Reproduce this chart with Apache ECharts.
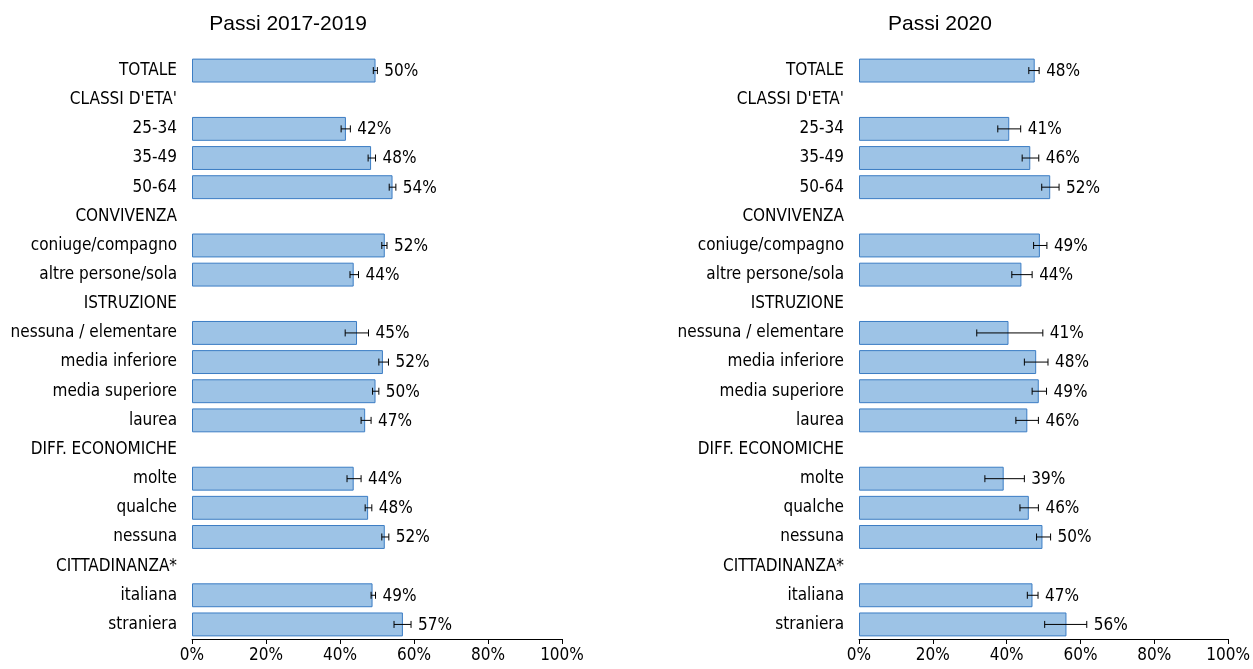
<!DOCTYPE html>
<html>
<head>
<meta charset="utf-8">
<script src="https://cdn.jsdelivr.net/npm/echarts@6/dist/echarts.min.js"></script>
<style>
  html, body { margin: 0; padding: 0; background: #fff; }
  #main { width: 1253px; height: 669px; }
</style>
</head>
<body>
<div id="main"></div>
<script>
var categories = ['TOTALE', "CLASSI D'ETA'", '25-34', '35-49', '50-64', 'CONVIVENZA',
    'coniuge/compagno', 'altre persone/sola', 'ISTRUZIONE', 'nessuna / elementare',
    'media inferiore', 'media superiore', 'laurea', 'DIFF. ECONOMICHE', 'molte',
    'qualche', 'nessuna', 'CITTADINANZA*', 'italiana', 'straniera'];

// Passi 2017-2019 (null = riga di intestazione)
var val1 = [49.6, null, 41.6, 48.4, 54.2, null, 52.1, 43.7, null, 44.6, 51.6, 49.6, 46.8, null, 43.7, 47.6, 52.1, null, 48.8, 57.0];
var lo1  = [49.0, null, 40.3, 47.6, 53.3, null, 51.3, 42.7, null, 41.4, 50.5, 48.8, 45.7, null, 41.9, 46.8, 51.3, null, 48.4, 54.6];
var hi1  = [50.1, null, 42.8, 49.6, 55.1, null, 52.7, 45.0, null, 47.7, 53.1, 50.5, 48.4, null, 45.7, 48.6, 53.2, null, 49.6, 59.2];

// Passi 2020
var val2 = [47.6, null, 40.7, 46.4, 51.8, null, 49.0, 44.0, null, 40.5, 48.0, 48.7, 45.6, null, 39.2, 46.0, 49.7, null, 47.0, 56.2];
var lo2  = [46.0, null, 37.6, 44.2, 49.5, null, 47.3, 41.4, null, 31.9, 44.8, 46.9, 42.5, null, 34.1, 43.6, 48.1, null, 45.6, 50.3];
var hi2  = [48.8, null, 43.8, 48.7, 54.2, null, 50.9, 46.9, null, 49.8, 51.2, 50.8, 48.6, null, 44.8, 48.6, 51.9, null, 48.5, 61.7];

var titles = ['Passi 2017-2019', 'Passi 2020'];

var FONT = '"DejaVu Sans Condensed", "DejaVu Sans", sans-serif';

function errData(val, lo, hi) {
    var out = [];
    for (var i = 0; i < val.length; i++) {
        if (val[i] != null) out.push([i, lo[i], hi[i], val[i]]);
    }
    return out;
}

function renderErr(params, api) {
    var idx = api.value(0);
    var p1 = api.coord([api.value(1), idx]);
    var p2 = api.coord([api.value(2), idx]);
    var pv = api.coord([api.value(3), idx]);
    var cap = 3.5;
    var lineStyle = { stroke: '#000', lineWidth: 1 };
    var tx = Math.max(p2[0], pv[0]) + 7;
    return {
        type: 'group',
        children: [
            { type: 'line', shape: { x1: p1[0], y1: p1[1], x2: p2[0], y2: p2[1] }, style: lineStyle },
            { type: 'line', shape: { x1: p1[0], y1: p1[1] - cap, x2: p1[0], y2: p1[1] + cap }, style: lineStyle },
            { type: 'line', shape: { x1: p2[0], y1: p2[1] - cap, x2: p2[0], y2: p2[1] + cap }, style: lineStyle },
            { type: 'text', style: {
                text: Math.round(api.value(3)) + '%',
                x: tx, y: p1[1] + 1,
                verticalAlign: 'middle', align: 'left',
                fill: '#000', fontSize: 17, fontFamily: FONT
            } }
        ]
    };
}

var grids = [
    { left: 192, width: 370, top: 56, bottom: 30 },
    { left: 859, width: 370, top: 56, bottom: 30 }
];

var xAxes = [0, 1].map(function (g) {
    return {
        type: 'value', gridIndex: g, min: 0, max: 100, interval: 20,
        axisLine: { show: true, lineStyle: { color: '#000', width: 1 } },
        axisTick: { show: true, length: 5, lineStyle: { color: '#000' } },
        splitLine: { show: false },
        axisLabel: { formatter: '{value}%', color: '#000', fontSize: 17, fontFamily: FONT, margin: 8 }
    };
});

var yAxes = [0, 1].map(function (g) {
    return {
        type: 'category', gridIndex: g, data: categories, inverse: true,
        axisLine: { show: false }, axisTick: { show: false },
        axisLabel: { color: '#000', fontSize: 17, fontFamily: FONT, margin: 15, interval: 0 }
    };
});

var barStyle = { color: '#9DC3E6', borderColor: '#3C7DC4', borderWidth: 1 };

var myChart = echarts.init(document.getElementById('main'));
var option = {
    animation: false,
    title: [
        { text: titles[0], left: 283, top: 9, textAlign: 'center',
          textStyle: { fontSize: 21, fontWeight: 'normal', color: '#000', fontFamily: 'Liberation Sans, Arial, sans-serif' } },
        { text: titles[1], left: 935, top: 9, textAlign: 'center',
          textStyle: { fontSize: 21, fontWeight: 'normal', color: '#000', fontFamily: 'Liberation Sans, Arial, sans-serif' } }
    ],
    grid: grids,
    xAxis: xAxes,
    yAxis: yAxes,
    series: [
        { type: 'bar', xAxisIndex: 0, yAxisIndex: 0, data: val1, barCategoryGap: '18%', itemStyle: barStyle },
        { type: 'custom', xAxisIndex: 0, yAxisIndex: 0, data: errData(val1, lo1, hi1), renderItem: renderErr, z: 5 },
        { type: 'bar', xAxisIndex: 1, yAxisIndex: 1, data: val2, barCategoryGap: '18%', itemStyle: barStyle },
        { type: 'custom', xAxisIndex: 1, yAxisIndex: 1, data: errData(val2, lo2, hi2), renderItem: renderErr, z: 5 }
    ]
};
myChart.setOption(option);
</script>
</body>
</html>
